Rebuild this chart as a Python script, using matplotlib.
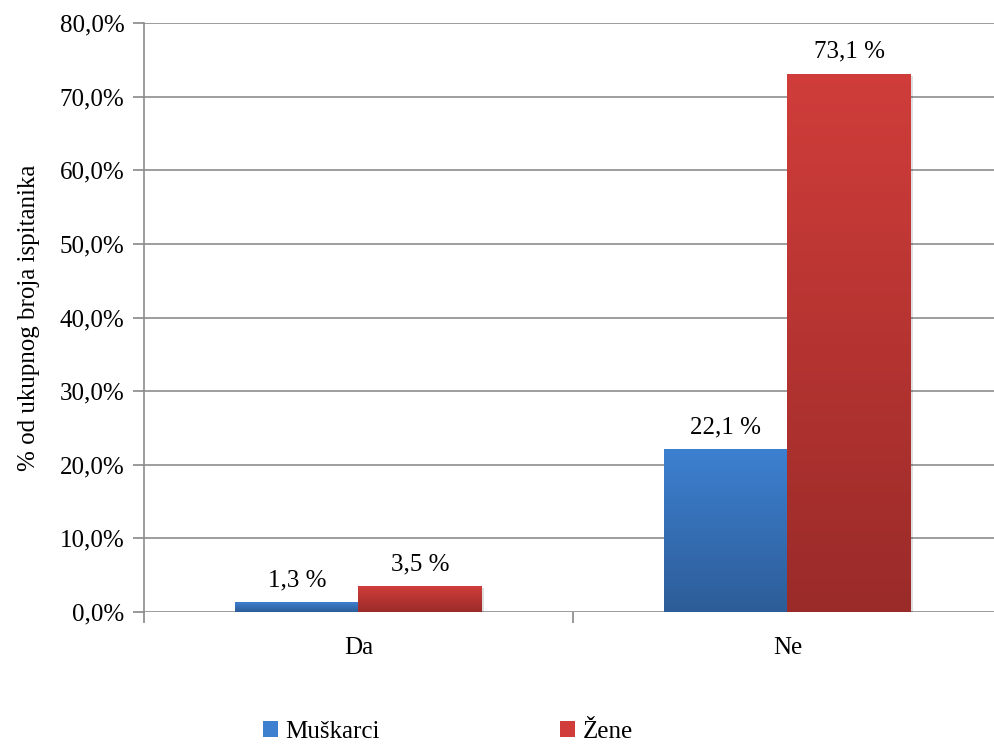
import numpy as np
import matplotlib.pyplot as plt
from matplotlib.colors import LinearSegmentedColormap
from matplotlib.patches import Patch

categories = ['Da', 'Ne']
muskarci = [1.3, 22.1]
zene = [3.5, 73.1]
series_names = ['Muškarci', 'Žene']
yticks = [0, 10, 20, 30, 40, 50, 60, 70, 80]

plt.rcParams['font.family'] = ['Liberation Serif', 'DejaVu Serif']
plt.rcParams['font.size'] = 18

blue_top, blue_bot = '#3d80d0', '#2d5d98'
red_top, red_bot = '#d03d3a', '#9a2b29'

fig = plt.figure(figsize=(9.95, 7.44), dpi=100)
ax = fig.add_axes([144 / 995, 1 - 612 / 744, 858 / 995, 589 / 744])

x = np.arange(len(categories))
w = 0.287
b1 = ax.bar(x - w / 2, muskarci, w, color=blue_top, zorder=3)
b2 = ax.bar(x + w / 2, zene, w, color=red_top, zorder=3)


def gradient(bars, top, bot):
    cmap = LinearSegmentedColormap.from_list('g', [bot, top])
    grad = np.linspace(0, 1, 256).reshape(-1, 1)
    for r in bars:
        x0, h, bw = r.get_x(), r.get_height(), r.get_width()
        # soft shadow
        ax.bar(x0 + bw / 2 + 0.006, h, bw, bottom=-0.25, color='#000000',
               alpha=0.12, zorder=2, linewidth=0)
        im = ax.imshow(grad, extent=[x0, x0 + bw, 0, h], origin='lower',
                       cmap=cmap, aspect='auto', zorder=4)
        im.set_clip_path(r)


gradient(b1, blue_top, blue_bot)
gradient(b2, red_top, red_bot)

for bars, vals in ((b1, muskarci), (b2, zene)):
    for r, v in zip(bars, vals):
        ax.annotate(f'{v:.1f} %'.replace('.', ','),
                    (r.get_x() + r.get_width() / 2, r.get_height()),
                    xytext=(0, 8), textcoords='offset points',
                    ha='center', va='bottom', fontsize=18, zorder=5)

ax.set_xlim(-0.5, 1.5)
ax.set_ylim(0, 80)
ax.set_yticks(yticks)
ax.set_yticklabels([f'{t:.1f}%'.replace('.', ',') for t in yticks])
ax.set_xticks([-0.5, 0.5, 1.5], minor=False)
ax.set_xticklabels([])
ax.set_xticks(x, minor=True)
ax.set_xticklabels(categories, minor=True)
ax.tick_params(axis='x', which='minor', length=0, pad=18)
ax.tick_params(axis='x', which='major', length=8, color='#888888', width=1.2)
ax.tick_params(axis='y', length=8, color='#888888', width=1.2, pad=6)

ax.yaxis.grid(True, color='#8c8c8c', linewidth=1.2, zorder=0)
ax.set_axisbelow(True)
for s in ('top', 'right', 'bottom'):
    ax.spines[s].set_visible(False)
ax.spines['left'].set_color('#8c8c8c')
ax.spines['left'].set_linewidth(1.2)
ax.set_ylabel('% od ukupnog broja ispitanika', fontsize=18, labelpad=14)

handles = [Patch(facecolor=blue_top), Patch(facecolor=red_top)]
fig.legend(handles, series_names, loc='center', bbox_to_anchor=(448 / 995, 12 / 744),
           ncol=2, frameon=False, handlelength=0.6, handleheight=0.6,
           handletextpad=0.3, columnspacing=7.2, fontsize=18)

fig.savefig('out.png', dpi=100)
